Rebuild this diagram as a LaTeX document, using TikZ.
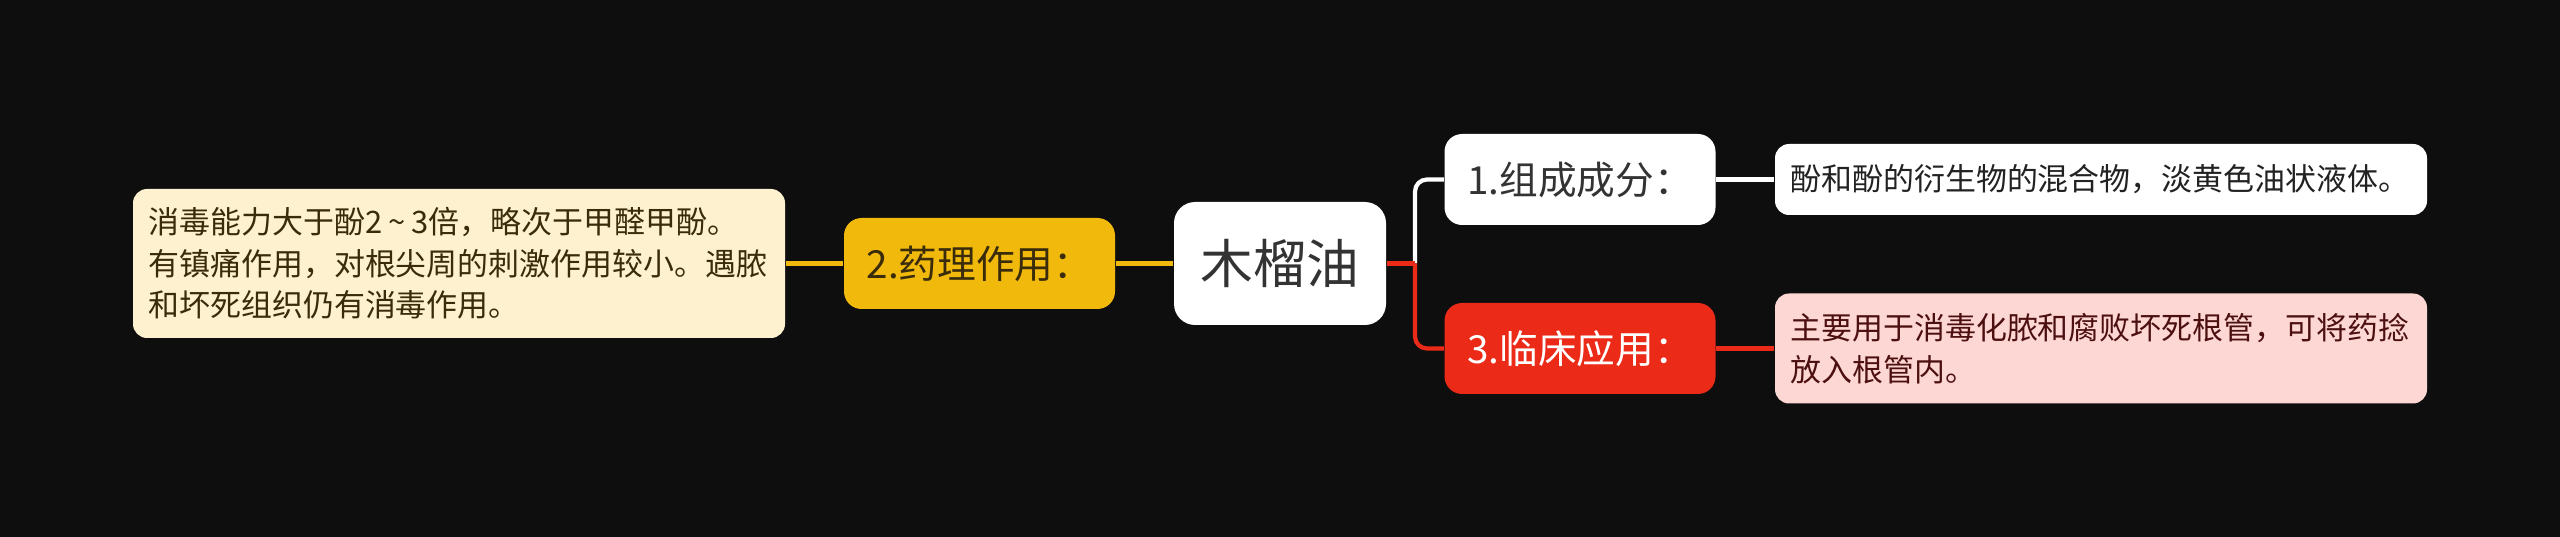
\documentclass[tikz,border=0pt]{standalone}
\usepackage{fontspec}
\setmainfont{Noto Sans CJK SC}
\usetikzlibrary{positioning}
\definecolor{bgblack}{RGB}{14,14,14}
\definecolor{roottext}{RGB}{51,51,51}
\definecolor{yellowbranch}{RGB}{241,185,11}
\definecolor{yellowtext}{RGB}{58,44,10}
\definecolor{creamleaf}{RGB}{253,241,207}
\definecolor{redbranch}{RGB}{236,42,24}
\definecolor{pinkleaf}{RGB}{253,215,212}
\definecolor{pinktext}{RGB}{77,16,16}
\definecolor{leaftext}{RGB}{34,34,34}
\tikzset{
rootbox/.style={fill=white, rounded corners=6pt, minimum width=2.12cm, minimum height=1.23cm, inner sep=0pt, text=roottext, font=\fontsize{15pt}{18pt}\selectfont},
branchbox/.style={rounded corners=5pt, minimum width=2.71cm, minimum height=0.91cm, inner sep=0pt, font=\fontsize{11pt}{13pt}\selectfont},
leafbox/.style={rounded corners=4pt, minimum width=6.52cm, inner xsep=0.155cm, inner ysep=0pt, align=left, text width=6.21cm, font=\fontsize{8.8pt}{11.85pt}\selectfont},
linkline/.style={line width=1.2pt},
yellowlink/.style={linkline, draw=yellowbranch},
redlink/.style={linkline, draw=redbranch},
whitelink/.style={linkline, draw=white}
}
\begin{document}
\begin{tikzpicture}[x=1cm,y=1cm]

\fill[bgblack] (0,0) rectangle (25.6,5.37);
\useasboundingbox (0,0) rectangle (25.6,5.37);

\node[rootbox] (root) at (12.80,2.735) {木榴油};

% left side
\node[branchbox, fill=yellowbranch, text=yellowtext] (pharm) at (9.795,2.735) {2.药理作用：};
\node[leafbox, fill=creamleaf, text=yellowtext, minimum height=1.49cm] (pharmleaf) at (4.59,2.735)
{消毒能力大于酚2\hspace{0.2em}\textasciitilde\hspace{0.2em}3倍，略次于甲醛甲酚。\\有镇痛作用，对根尖周的刺激作用较小。遇脓\\和坏死组织仍有消毒作用。};

% right side
\node[branchbox, fill=white, text=roottext] (comp) at (15.80,3.575) {1.组成成分：};
\node[branchbox, fill=redbranch, text=white] (clin) at (15.80,1.885) {3.临床应用：};
\node[leafbox, fill=white, text=leaftext, minimum height=0.71cm] (compleaf) at (21.01,3.575)
{酚和酚的衍生物的混合物，淡黄色油状液体。};
\node[leafbox, fill=pinkleaf, text=pinktext, minimum height=1.10cm] (clinleaf) at (21.01,1.885)
{主要用于消毒化脓和腐败坏死根管，可将药捻\\放入根管内。};

\coordinate (fork) at (14.15,2.735);

\draw[yellowlink] (root.west) -- (pharm.east);
\draw[yellowlink] (pharm.west) -- (pharmleaf.east);

\draw[whitelink, rounded corners=0.12cm] (fork) |- (comp.west);
\draw[redlink] (root.east) -- (fork);
\draw[redlink, rounded corners=0.12cm] (fork) |- (clin.west);
\draw[whitelink] (comp.east) -- (compleaf.west);
\draw[redlink] (clin.east) -- (clinleaf.west);

\end{tikzpicture}
\end{document}
